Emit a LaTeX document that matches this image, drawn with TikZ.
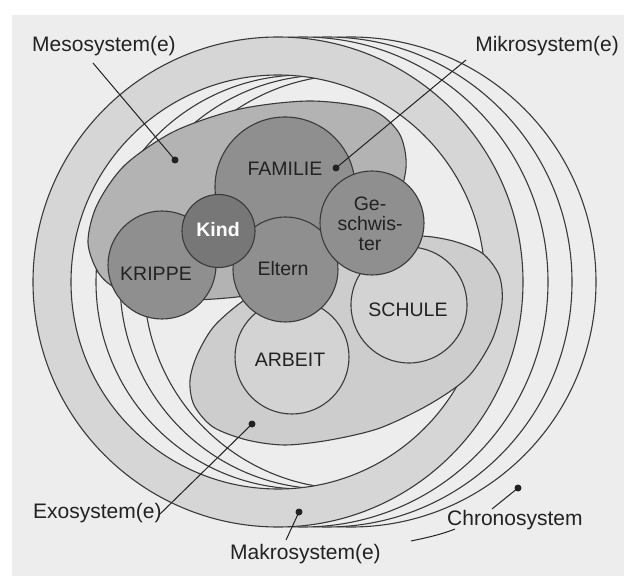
\documentclass[tikz,border=0pt]{standalone}
\usepackage{fontspec}
\setmainfont{Liberation Sans}
\definecolor{bgc}{HTML}{EDEDED}
\definecolor{ringc}{HTML}{D6D6D6}
\definecolor{mesoc}{HTML}{B3B3B3}
\definecolor{microc}{HTML}{8F8F8F}
\definecolor{kindc}{HTML}{777777}
\definecolor{exoc}{HTML}{CDCDCD}
\definecolor{exoinc}{HTML}{D3D3D3}
\definecolor{linec}{HTML}{3A3A3A}
\definecolor{textc}{HTML}{222222}
\begin{document}
\begin{tikzpicture}[x=1pt,y=-1pt,line join=round,
  ln/.style={draw=linec,line width=1.1pt},
  micro/.style={circle,draw=linec,line width=1.1pt,fill=microc,inner sep=0pt},
  exoin/.style={circle,draw=linec,line width=1.1pt,fill=exoinc,inner sep=0pt},
  ptr/.style={draw=textc,line width=1pt},
  dotn/.style={circle,fill=textc,inner sep=0pt,minimum size=7pt},
  lab/.style={font=\fontsize{21}{24}\selectfont,text=textc,inner sep=0pt},
  inlab/.style={font=\fontsize{19.5}{20}\selectfont,text=textc,inner sep=0pt,align=center}]
\useasboundingbox (0,0) rectangle (624,577);
\fill[white] (0,0) rectangle (624,577);
\fill[bgc] (12,15) rectangle (624,576);
% chronosystem copies of the ring (back to front)
\foreach \d in {73,49,25}{
  \fill[bgc,even odd rule] (278+\d,282) circle[radius=245pt] (278+\d,282) circle[radius=207pt];
  \draw[ln] (278+\d,282) circle[radius=245pt] (278+\d,282) circle[radius=207pt];
}
% makrosystem ring
\fill[ringc,even odd rule] (278,282) circle[radius=245pt] (278,282) circle[radius=207pt];
\draw[ln] (278,282) circle[radius=245pt] (278,282) circle[radius=207pt];
% mesosystem blob
\filldraw[ln,fill=mesoc] plot[smooth cycle] coordinates {(88,243) (97,205) (125,165) (175,131) (240,109) (310,101) (370,109) (399,133) (406,168) (392,212) (350,258) (290,288) (237,297) (180,300) (125,292) (100,275)};
% exosystem blob
\filldraw[ln,fill=exoc] plot[smooth cycle] coordinates {(260,290) (217,323) (198,353) (190,380) (194,405) (213,427) (247,440) (285,445) (330,440) (380,428) (430,404) (468,377) (492,340) (502,303) (499,275) (482,253) (453,241) (420,236) (380,240) (330,262)};
\node[exoin,minimum size=114pt] (arbeit) at (292,357) {};
\node[exoin,minimum size=116pt] (schule) at (409,305) {};
% mikrosystem circles
\node[micro,minimum size=140pt] (familie) at (285,187) {};
\node[micro,minimum size=108pt] (krippe) at (162,265) {};
\node[micro,minimum size=105pt] (eltern) at (285.5,269.5) {};
\node[micro,minimum size=104pt] (geschw) at (372,223) {};
\node[micro,minimum size=73pt,fill=kindc] (kind) at (218.5,231) {};
% inner labels
\node[inlab] (familieT) at (285,169) {FAMILIE};
\node[inlab] (krippeT) at (156,274) {KRIPPE};
\node[inlab] (elternT) at (283,269) {Eltern};
\node[inlab,font=\fontsize{19.5}{20}\selectfont\bfseries,text=white] (kindT) at (218,230) {Kind};
\node[inlab] (geschwT) at (370,224) {Ge-\\schwis-\\ter};
\node[inlab] (arbeitT) at (290,360) {ARBEIT};
\node[inlab] (schuleT) at (408,310) {SCHULE};
% outer labels
\node[lab,anchor=base west] (mesoL) at (32,52) {Mesosystem(e)};
\node[lab,anchor=base east] (mikroL) at (619,52) {Mikrosystem(e)};
\node[lab,anchor=base west] (exoL) at (33,518) {Exosystem(e)};
\node[lab,anchor=base west] (makroL) at (230,559) {Makrosystem(e)};
\node[lab,anchor=base west] (chronoL) at (447,525) {Chronosystem};
% pointer dots
\node[dotn] (mesoD) at (175,160) {};
\node[dotn] (mikroD) at (336,168) {};
\node[dotn] (exoD) at (252,424) {};
\node[dotn] (makroD) at (299,512) {};
\node[dotn] (chronoD) at (518,488) {};
% pointer free ends
\coordinate (mesoS) at (93,63);
\coordinate (mikroS) at (466,60);
\coordinate (exoS) at (160,514);
\coordinate (makroS) at (286,540);
\coordinate (chronoS) at (492,509);
\coordinate (arcA) at (411,541);
\coordinate (arcB) at (455,529);
\draw[ptr] (mesoS) -- (mesoD.center);
\draw[ptr] (mikroS) -- (mikroD.center);
\draw[ptr] (exoS) -- (exoD.center);
\draw[ptr] (makroS) -- (makroD.center);
\draw[ptr] (chronoS) -- (chronoD.center);
\draw[ptr] (arcA) .. controls (425,538) and (440,535) .. (arcB);
\end{tikzpicture}
\end{document}
